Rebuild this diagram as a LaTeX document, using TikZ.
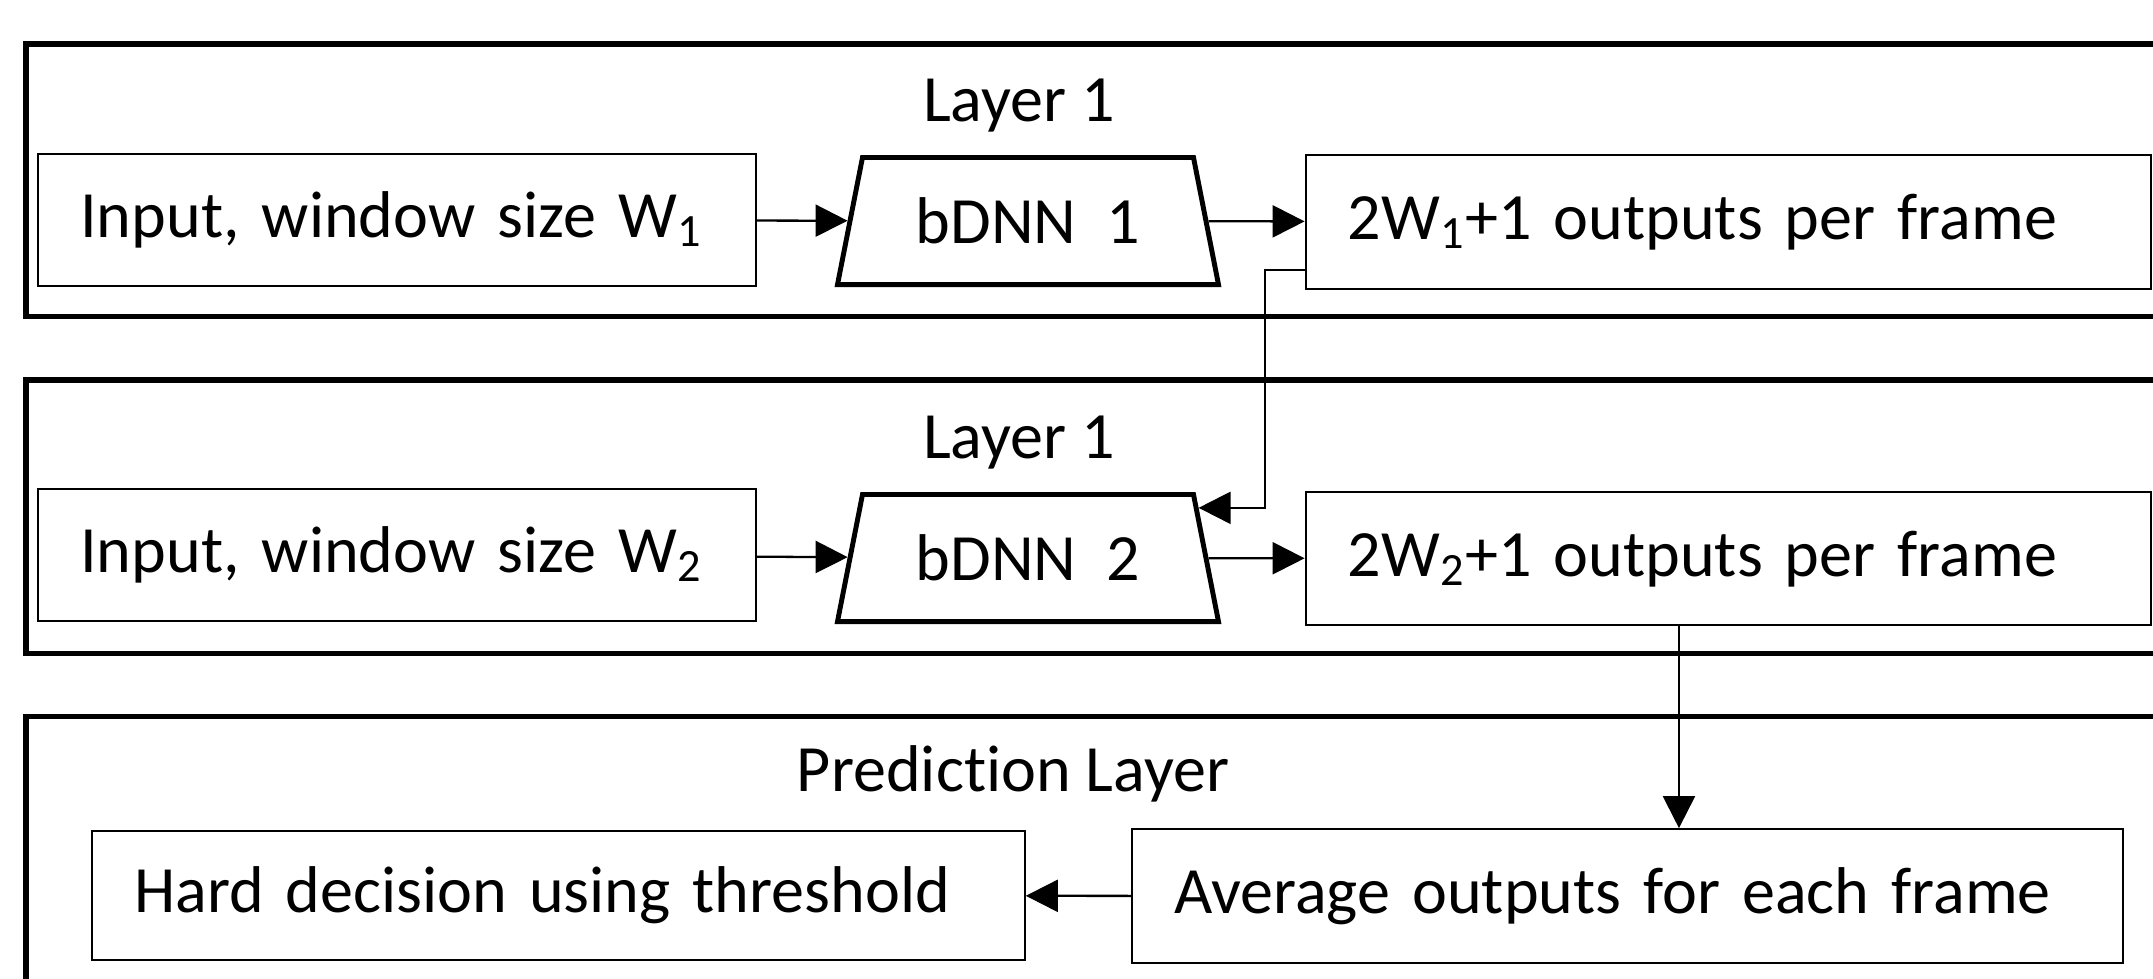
\documentclass[tikz,border=0pt]{standalone}
\usepackage{fontspec}
\setmainfont{Carlito}[Ligatures=NoCommon]
\usetikzlibrary{shapes.geometric, arrows.meta, calc}
\tikzset{
  box/.style={rectangle, draw, line width=0.65pt, inner xsep=0.42cm,
    align=left, minimum height=1.32cm},
  netnode/.style={trapezium, draw, line width=1.4pt,
    trapezium left angle=75, trapezium right angle=75,
    trapezium stretches=true, minimum width=3.82cm, minimum height=1.27cm},
  frame/.style={draw, line width=1.45pt},
  arrow/.style={-{Triangle[length=3.2mm, width=3.2mm]}, line width=0.65pt}
}

\begin{document}
\begin{tikzpicture}[x=0.01cm, y=-0.01cm, every node/.style={font=\fontsize{18.8pt}{22pt}\selectfont}]
  \useasboundingbox (0,0) rectangle (2153,978);
  \clip (0,0) rectangle (2153,978);

  % Layer frames, cut off at the right and bottom
  \draw[frame] (26,44) rectangle (2250,316.7);
  \draw[frame] (26,380) rectangle (2250,653.3);
  \draw[frame] (26,716.2) rectangle (2250,1100);

  % Frame titles
  \node[anchor=base] (titleA) at (1019,121.7) {Layer 1};
  \node[anchor=base] (titleB) at (1019,458) {Layer 1};
  \node[anchor=base] (titleC) at (1013,791.7) {Prediction Layer};

  % First layer
  \node[box, text width=6.33cm] (inA) at (397,220) {Input, window size W\textsubscript{1}};
  \node[netnode] (netA) at (1028,221) {bDNN~~1};
  \node[box, text width=7.61cm, minimum height=1.34cm] (outA) at (1728.5,222) {2W\textsubscript{1}+1 outputs per frame};

  % Second layer
  \node[box, text width=6.33cm] (inB) at (397,555) {Input, window size W\textsubscript{2}};
  \node[netnode] (netB) at (1028,558) {bDNN~~2};
  \node[box, text width=7.61cm, minimum height=1.33cm] (outB) at (1728.5,558.7) {2W\textsubscript{2}+1 outputs per frame};

  % Prediction layer
  \node[box, text width=8.48cm, minimum height=1.29cm] (hard) at (558.4,895.4) {Hard decision using threshold};
  \node[box, text width=9.06cm, minimum height=1.34cm] (avg) at (1627.5,896.3) {Average outputs for each frame};

  % Connectors
  \draw[arrow] (inA) -- (netA);
  \draw[arrow] (netA) -- (outA);
  \draw[arrow] (inB) -- (netB);
  \draw[arrow] (netB) -- (outB);

  \coordinate (hitB) at ($(netB.top right corner)!0.12!(netB.bottom right corner)$);
  \draw[arrow] ([yshift=0.2cm]outA.south west) -- ++(-39.4,0) |- (hitB);

  \coordinate (tapB) at ([xshift=-0.495cm]outB.south);
  \draw[arrow] (tapB) -- (tapB |- avg.north);
  \draw[arrow] (avg) -- (hard);
\end{tikzpicture}
\end{document}
